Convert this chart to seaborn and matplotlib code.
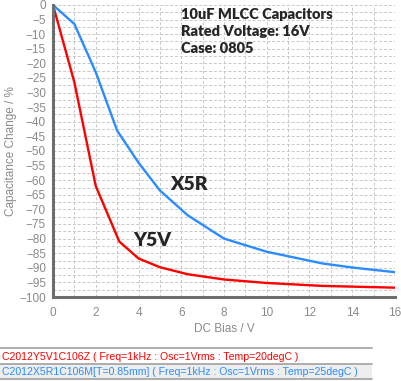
import numpy as np
import pandas as pd
import matplotlib.pyplot as plt
import seaborn as sns
from matplotlib.lines import Line2D
from matplotlib.patches import Rectangle

# DC bias curves
y5v_bias = [0, 1, 2, 3.1, 4, 5, 6.3, 8, 10, 12.6, 16]
y5v_change = [0, -26.5, -62, -81, -86.8, -89.8, -92.2, -94, -95.2, -96.2, -96.8]
x5r_bias = [0, 1, 2, 3, 4, 5, 6.3, 8, 10, 12.6, 14, 16]
x5r_change = [0, -6.5, -23, -43, -54, -63.5, -72, -80, -84.5, -88.5, -89.9, -91.5]

series_names = ['C2012Y5V1C106Z', 'C2012X5R1C106M']
legend_labels = [
    'C2012Y5V1C106Z ( Freq=1kHz : Osc=1Vrms : Temp=20degC )',
    'C2012X5R1C106M[T=0.85mm] ( Freq=1kHz : Osc=1Vrms : Temp=25degC )',
]
colors = ['#ff0000', '#2b8cff']
info_lines = ['10uF MLCC Capacitors', 'Rated Voltage: 16V', 'Case: 0805']

df = pd.concat([
    pd.DataFrame({'bias': y5v_bias, 'change': y5v_change, 'part': series_names[0]}),
    pd.DataFrame({'bias': x5r_bias, 'change': x5r_change, 'part': series_names[1]}),
])

sns.set_style('white')
plt.rcParams['font.family'] = ['Liberation Sans', 'DejaVu Sans']

fig = plt.figure(figsize=(4.02, 3.81), dpi=100)
ax = fig.add_axes([53 / 402, 84 / 381, 342 / 402, 292 / 381])

sns.lineplot(data=df, x='bias', y='change', hue='part', palette=dict(zip(series_names, colors)),
             linewidth=1.7, sort=False, legend=False, ax=ax)

ax.set_xlim(0, 16)
ax.set_ylim(-100, 0)
ax.set_xticks(np.arange(0, 17, 2))
ax.set_xticks(np.arange(1, 16, 2), minor=True)
ax.set_yticks(np.arange(-100, 1, 5))
ax.set_yticks(np.arange(-97.5, 0, 5), minor=True)
ax.grid(True, which='both', color='#c8c8c8', linestyle=(0, (3, 2)), linewidth=0.7)
ax.set_axisbelow(True)

gray = '#8a8a8a'
for s in ['top', 'right']:
    ax.spines[s].set_visible(False)
for s in ['left', 'bottom']:
    ax.spines[s].set_color('#6e6e6e')
    ax.spines[s].set_linewidth(2.2)
ax.tick_params(which='both', direction='out', color='#6e6e6e', width=1.5, length=3,
               labelcolor=gray, labelsize=8.5, pad=2)
ax.tick_params(axis='x', pad=4)
ax.tick_params(which='minor', labelleft=False, labelbottom=False)

ax.set_xlabel('DC Bias / V', color=gray, fontsize=8.5, labelpad=3)
ax.set_ylabel('Capacitance Change / %', color=gray, fontsize=8.5, labelpad=2)

bold_font = ['Lato', 'DejaVu Sans']
for i, line in enumerate(info_lines):
    ax.text(5.98, -3.1 - 5.9 * i, line, fontsize=10.5, fontweight='heavy',
            family=bold_font, va='center', ha='left')
ax.text(5.47, -61.6, 'X5R', fontsize=14, fontweight='heavy',
        family=bold_font, va='center', ha='left')
ax.text(3.74, -80.5, 'Y5V', fontsize=14, fontweight='heavy',
        family=bold_font, va='center', ha='left')

# legend table under the chart
H = 381
fig.patches.append(Rectangle((0, 1 - 379 / H), 372 / 402, 15 / H, transform=fig.transFigure,
                             facecolor='#eeeeee', edgecolor='none'))
for yy in [348, 364, 379]:
    fig.lines.append(Line2D([0, 372 / 402], [1 - yy / H, 1 - yy / H], transform=fig.transFigure,
                            color='#a0a0a0', linewidth=1.2))
for i, (lab, col) in enumerate(zip(legend_labels, colors)):
    fig.text(2 / 402, 1 - (356.5 + 15.5 * i) / H, lab, color=col, fontsize=7.6,
             va='center', ha='left')

fig.savefig('out.png', dpi=100)
